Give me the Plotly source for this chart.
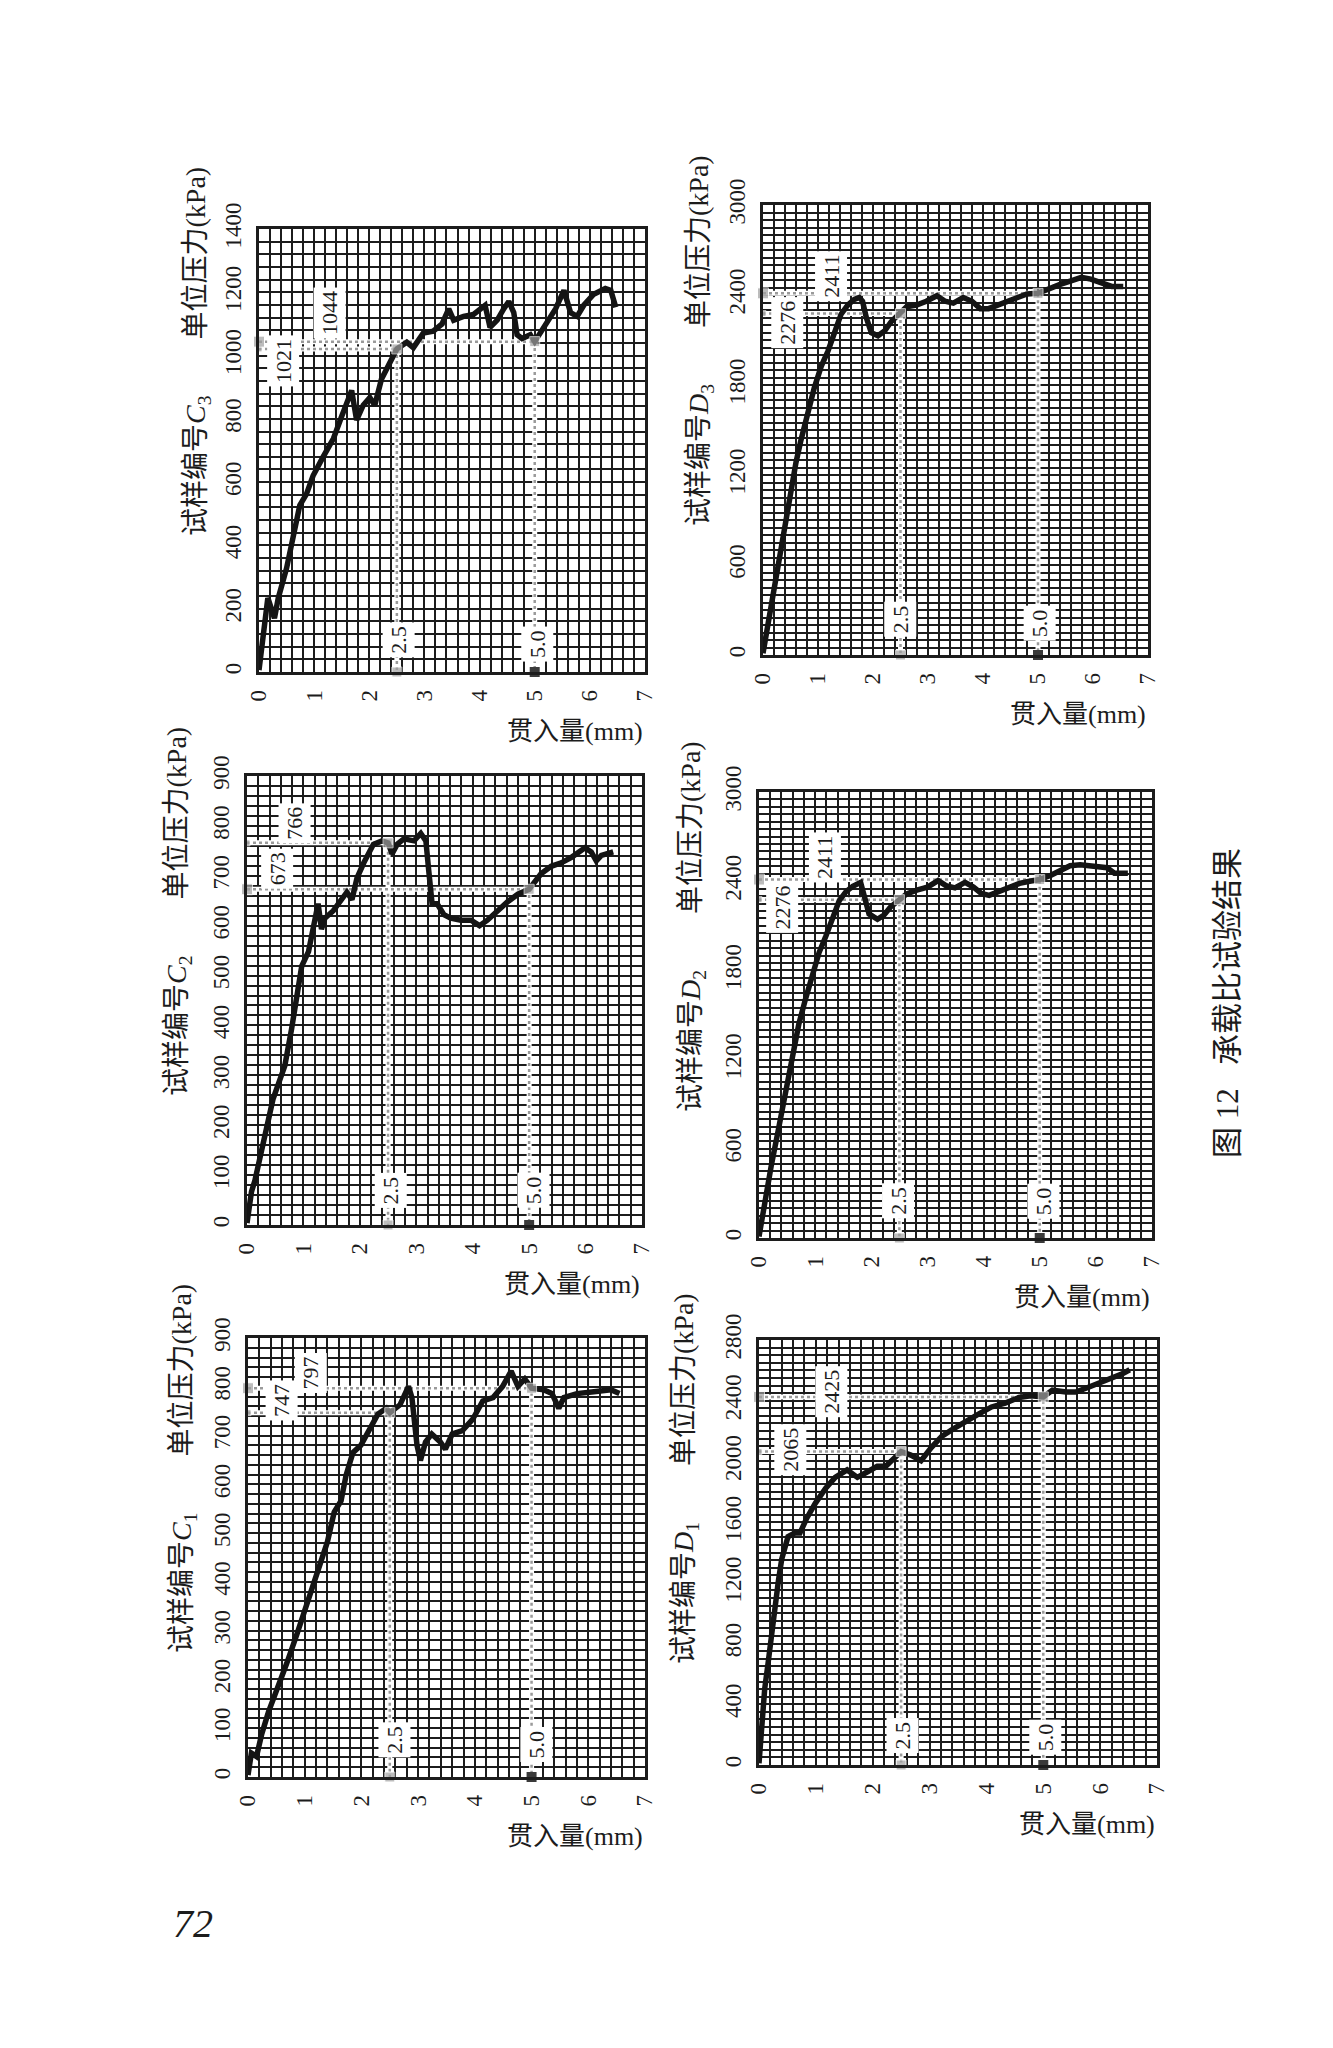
import plotly.graph_objects as go

# penetration (mm) vs unit pressure (kPa)
C3_X = [0, 0.13, 0.16, 0.28, 0.35, 0.5, 0.62, 0.74, 0.86, 0.98, 1.16, 1.35, 1.5, 1.68, 1.77, 1.89, 2.01, 2.1,
        2.22, 2.38, 2.5, 2.68, 2.8, 2.98, 3.16, 3.32, 3.44, 3.53, 3.71, 3.89, 4.01, 4.1, 4.19, 4.32, 4.44, 4.53,
        4.62, 4.68, 4.77, 4.92, 5.0, 5.22, 5.38, 5.53, 5.65, 5.77, 5.89, 6.07, 6.28, 6.38, 6.47]
C3_Y = [6, 187, 234, 170, 234, 328, 421, 527, 562, 620, 679, 738, 808, 890, 796, 843, 867, 843,
        925, 984, 1021, 1042, 1025, 1071, 1077, 1100, 1148, 1112, 1124, 1130, 1148, 1159, 1089, 1112, 1148, 1171,
        1136, 1066, 1054, 1066, 1044, 1100, 1148, 1206, 1136, 1124, 1159, 1194, 1212, 1206, 1153]

C2_X = [0, 0.08, 0.14, 0.23, 0.34, 0.46, 0.55, 0.67, 0.79, 0.88, 0.97, 1.09, 1.18, 1.26, 1.32, 1.38, 1.53, 1.68,
        1.77, 1.86, 1.95, 2.07, 2.16, 2.24, 2.39, 2.5, 2.57, 2.66, 2.78, 2.96, 3.08, 3.17, 3.22, 3.28, 3.37, 3.49,
        3.61, 3.79, 3.97, 4.12, 4.26, 4.44, 4.62, 4.8, 5.0, 5.21, 5.39, 5.57, 5.75, 5.99, 6.1, 6.19, 6.28, 6.49]
C2_Y = [4, 67, 89, 133, 185, 252, 281, 319, 393, 459, 519, 548, 593, 644, 593, 615, 630, 652,
        667, 652, 696, 726, 748, 763, 770, 766, 744, 763, 774, 770, 785, 770, 711, 644, 644, 622,
        615, 611, 611, 600, 611, 630, 648, 663, 673, 704, 719, 726, 737, 756, 748, 730, 741, 748]

C1_X = [0, 0.06, 0.15, 0.24, 0.36, 0.51, 0.68, 0.86, 1.04, 1.22, 1.4, 1.52, 1.64, 1.73, 1.85, 1.99, 2.14, 2.29,
        2.44, 2.5, 2.68, 2.83, 2.89, 2.98, 3.04, 3.13, 3.24, 3.39, 3.48, 3.6, 3.78, 3.96, 4.14, 4.32, 4.49, 4.64,
        4.76, 4.88, 5.0, 5.21, 5.36, 5.48, 5.57, 5.8, 6.1, 6.4, 6.55]
C1_Y = [4, 49, 42, 87, 133, 178, 232, 292, 353, 414, 482, 543, 566, 619, 665, 680, 710, 744,
        756, 747, 763, 801, 778, 680, 649, 687, 703, 687, 672, 703, 710, 733, 771, 778, 801, 832,
        801, 816, 797, 794, 786, 756, 778, 786, 790, 794, 786]

D3_X = [0, 0.11, 0.23, 0.32, 0.41, 0.5, 0.6, 0.69, 0.81, 0.93, 1.06, 1.18, 1.3, 1.42, 1.54, 1.66, 1.75, 1.81,
        1.88, 1.97, 2.09, 2.21, 2.33, 2.5, 2.61, 2.79, 2.97, 3.16, 3.31, 3.46, 3.64, 3.8, 3.95, 4.1, 4.26, 4.44,
        4.62, 4.8, 5.0, 5.21, 5.39, 5.6, 5.79, 5.96, 6.15, 6.34, 6.55]
D3_Y = [12, 247, 494, 691, 889, 1086, 1284, 1432, 1605, 1778, 1926, 2025, 2148, 2272, 2333, 2370, 2383, 2358,
        2247, 2148, 2128, 2160, 2222, 2276, 2321, 2333, 2358, 2395, 2358, 2346, 2383, 2358, 2309, 2309, 2333, 2358,
        2383, 2407, 2411, 2444, 2469, 2494, 2518, 2506, 2481, 2457, 2457]

D2_X = [0, 0.1, 0.22, 0.33, 0.42, 0.52, 0.62, 0.71, 0.83, 0.95, 1.07, 1.19, 1.31, 1.43, 1.55, 1.67, 1.81, 1.88,
        1.96, 2.11, 2.22, 2.34, 2.5, 2.63, 2.81, 3.0, 3.19, 3.33, 3.49, 3.67, 3.82, 3.96, 4.1, 4.28, 4.46, 4.64,
        4.82, 5.0, 5.2, 5.38, 5.54, 5.72, 5.9, 6.08, 6.2, 6.33, 6.57]
D2_Y = [10, 240, 490, 700, 880, 1080, 1270, 1440, 1610, 1770, 1920, 2030, 2150, 2270, 2330, 2365, 2392, 2290,
        2180, 2144, 2170, 2225, 2276, 2315, 2340, 2360, 2404, 2370, 2355, 2392, 2360, 2318, 2305, 2330, 2360, 2385,
        2400, 2411, 2440, 2470, 2504, 2510, 2504, 2500, 2491, 2454, 2454]

D1_X = [0, 0.04, 0.1, 0.16, 0.22, 0.28, 0.34, 0.4, 0.46, 0.51, 0.63, 0.72, 0.84, 0.99, 1.17, 1.34, 1.55, 1.73,
        1.91, 2.08, 2.23, 2.38, 2.5, 2.67, 2.85, 3.03, 3.21, 3.41, 3.62, 3.86, 4.09, 4.33, 4.57, 4.78, 5.0, 5.16,
        5.4, 5.57, 5.75, 5.99, 6.22, 6.4, 6.52]
D1_Y = [12, 257, 501, 672, 868, 1039, 1210, 1357, 1455, 1504, 1528, 1528, 1626, 1724, 1822, 1895, 1944, 1895,
        1932, 1968, 1968, 2017, 2065, 2042, 2005, 2091, 2164, 2213, 2262, 2311, 2359, 2384, 2421, 2433, 2425, 2469,
        2457, 2457, 2482, 2518, 2543, 2579, 2604]

# unit pressure at 2.5 mm and 5.0 mm
C3_P = [1021, 1044]
C2_P = [766, 673]
C1_P = [747, 797]
D3_P = [2276, 2411]
D2_P = [2276, 2411]
D1_P = [2065, 2425]

PEN = [2.5, 5.0]
PEN_LABELS = ['2.5', '5.0']
X_TICKS = [0, 1, 2, 3, 4, 5, 6, 7]
C3_TICKS = [0, 200, 400, 600, 800, 1000, 1200, 1400]
C12_TICKS = [0, 100, 200, 300, 400, 500, 600, 700, 800, 900]
D23_TICKS = [0, 600, 1200, 1800, 2400, 3000]
D1_TICKS = [0, 400, 800, 1200, 1600, 2000, 2400, 2800]

W, H = 1333, 2048
PAD = 8  # body margin of the html page
FONT = 'Liberation Serif, Times New Roman, Noto Sans CJK SC'
INK = '#1c1c1c'


def px(x):
    return (x - PAD) / W


def py(y):
    return 1 - (y - PAD) / H


# panel placement in page pixels (left, right, top, bottom), grid step,
# title position and where the data labels sit (data coords)
PANELS = [
    dict(sub='3', letter='C', x=C3_X, y=C3_Y, p=C3_P, ticks=C3_TICKS, ystep=40, box=(259, 645, 229, 672),
         title=(197, 352), plab=[(0.44, 984), (1.28, 1133)], xlab=[(2.53, 100), (5.04, 88)]),
    dict(sub='3', letter='D', x=D3_X, y=D3_Y, p=D3_P, ticks=D23_TICKS, ystep=50, box=(763, 1148, 205, 655),
         title=(700, 341), plab=[(0.44, 2217), (1.23, 2526)], xlab=[(2.5, 235), (5.03, 210)]),
    dict(sub='2', letter='C', x=C2_X, y=C2_Y, p=C2_P, ticks=C12_TICKS, ystep=20, box=(247, 642, 776, 1225),
         title=(178, 912), plab=[(0.85, 806), (0.53, 715)], xlab=[(2.54, 70), (5.07, 70)]),
    dict(sub='2', letter='D', x=D2_X, y=D2_Y, p=D2_P, ticks=D23_TICKS, ystep=50, box=(759, 1152, 792, 1238),
         title=(692, 927), plab=[(0.41, 2224), (1.17, 2561)], xlab=[(2.47, 248), (5.06, 248)]),
    dict(sub='1', letter='C', x=C1_X, y=C1_Y, p=C1_P, ticks=C12_TICKS, ystep=20, box=(248, 645, 1338, 1777),
         title=(183, 1469), plab=[(0.6, 771), (1.1, 828)], xlab=[(2.59, 76), (5.09, 66)]),
    dict(sub='1', letter='D', x=D1_X, y=D1_Y, p=D1_P, ticks=D1_TICKS, ystep=50, box=(759, 1157, 1340, 1765),
         title=(685, 1479), plab=[(0.55, 2079), (1.28, 2458)], xlab=[(2.52, 196), (5.03, 183)]),
]

fig = go.Figure()
annotations = []
GAP = '\u00a0' * 8

for n, pan in enumerate(PANELS, start=1):
    xa, ya = f'x{n}', f'y{n}'
    left, right, top, bottom = pan['box']
    ymax = pan['ticks'][-1]
    grid = dict(showgrid=True, gridcolor=INK, gridwidth=2)

    fig.update_layout(**{
        f'xaxis{n}': dict(
            domain=[px(left), px(right)], anchor=ya, range=[0, 7], automargin=False,
            tickmode='linear', tick0=0, dtick=1, tickangle=-90,
            minor=dict(dtick=0.2, tick0=0, **grid), **grid,
            showline=True, mirror=True, linecolor=INK, linewidth=2.5,
            zeroline=False, ticks='', ticklabelstandoff=6,
            tickfont=dict(family=FONT, size=23, color=INK)),
        f'yaxis{n}': dict(
            domain=[py(bottom), py(top)], anchor=xa, range=[0, ymax], automargin=False,
            tickmode='linear', tick0=0, dtick=pan['ticks'][1], tickangle=-90,
            minor=dict(dtick=pan['ystep'], tick0=0, **grid), **grid,
            showline=True, mirror=True, linecolor=INK, linewidth=2.5,
            zeroline=False, ticks='', ticklabelstandoff=6,
            tickfont=dict(family=FONT, size=23, color=INK)),
    })

    # reference lines at 2.5 mm and 5.0 mm
    for pen, p in zip(PEN, pan['p']):
        for colour, width, dash in [('white', 5, 'solid'), ('#9a9a9a', 2.5, 'dot')]:
            fig.add_trace(go.Scatter(
                x=[0, pen, pen], y=[p, p, 0], xaxis=xa, yaxis=ya, mode='lines',
                line=dict(color=colour, width=width, dash=dash), hoverinfo='skip'))

    # measured curve
    fig.add_trace(go.Scatter(
        x=pan['x'], y=pan['y'], xaxis=xa, yaxis=ya, mode='lines',
        line=dict(color='#141414', width=5.5),
        name=f"{pan['letter']}{pan['sub']}"))

    # square markers
    fig.add_trace(go.Scatter(
        x=[0, 0, PEN[0], PEN[1], PEN[0]], y=[pan['p'][0], pan['p'][1], pan['p'][0], pan['p'][1], 0],
        xaxis=xa, yaxis=ya, mode='markers', cliponaxis=False,
        marker=dict(symbol='square', size=[6, 11, 10, 10, 10], color='#a0a0a0')))
    fig.add_trace(go.Scatter(
        x=[PEN[1]], y=[0], xaxis=xa, yaxis=ya, mode='markers', cliponaxis=False,
        marker=dict(symbol='square', size=10, color='#3a3a3a')))

    # data labels
    for (lx, ly), p in zip(pan['plab'], pan['p']):
        annotations.append(dict(
            x=lx, y=ly, xref=xa, yref=ya, text=str(p), showarrow=False, textangle=-90,
            bgcolor='white', borderpad=3, font=dict(family=FONT, size=22, color=INK)))
    for (lx, ly), t in zip(pan['xlab'], PEN_LABELS):
        annotations.append(dict(
            x=lx, y=ly, xref=xa, yref=ya, text=t, showarrow=False, textangle=-90,
            bgcolor='white', borderpad=3, font=dict(family=FONT, size=22, color=INK)))

    # axis titles
    tx, ty = pan['title']
    annotations.append(dict(
        x=px(tx), y=py(ty), xref='paper', yref='paper', showarrow=False, textangle=-90,
        xanchor='center', yanchor='middle',
        text=f"试样编号<i>{pan['letter']}</i><sub>{pan['sub']}</sub>{GAP}单位压力(kPa)",
        font=dict(family=FONT, size=28, color=INK)))
    annotations.append(dict(
        x=px(right), y=py(bottom + 59), xref='paper', yref='paper', showarrow=False,
        xanchor='right', yanchor='middle', text='贯入量(mm)',
        font=dict(family=FONT, size=26, color=INK)))

# figure caption and page number
annotations.append(dict(
    x=px(1227), y=py(1003), xref='paper', yref='paper', showarrow=False, textangle=-90,
    xanchor='center', yanchor='middle',
    text='图 12\u00a0\u00a0\u00a0承载比试验结果', font=dict(family=FONT, size=31, color=INK)))
annotations.append(dict(
    x=px(193), y=py(1923), xref='paper', yref='paper', showarrow=False,
    xanchor='center', yanchor='middle',
    text='<i>72</i>', font=dict(family=FONT, size=40, color=INK)))

fig.update_layout(
    width=W, height=H,
    margin=dict(l=0, r=0, t=0, b=0),
    paper_bgcolor='white', plot_bgcolor='white',
    showlegend=False,
    annotations=annotations,
)

fig.write_html('out.html')
